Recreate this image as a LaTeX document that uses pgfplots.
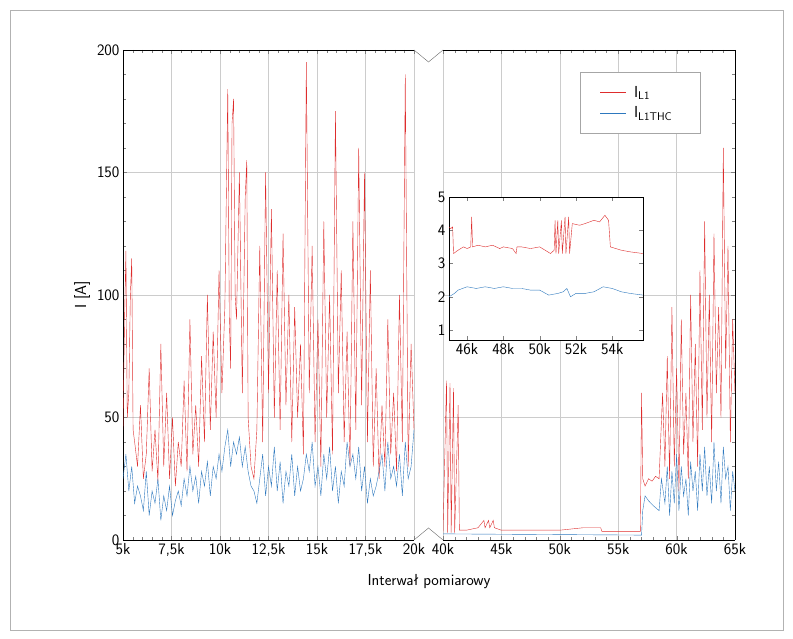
\documentclass[border=0pt]{standalone}
\usepackage{pgfplots}
\pgfplotsset{compat=1.18}
\definecolor{cr}{RGB}{222,45,45}
\definecolor{cb}{RGB}{45,120,190}
\newcommand\tf{\sffamily\fontsize{16}{18}\selectfont}
\begin{document}
\sffamily
\begin{tikzpicture}
\path[use as bounding box] (0bp,0bp) rectangle (793bp,639bp);
\draw[gray!60] (10bp,9bp) rectangle (783bp,629bp);
\pgfplotsset{every axis/.style={scale only axis, ticklabel style={font=\tf}, /pgf/number format/assume math mode=true,
 grid=major, major grid style={gray!40}, tick align=inside, minor tick num=4, ymin=0, ymax=200, ytick={0,50,100,150,200},
 every axis plot/.append style={line width=0.4pt}}}
\begin{axis}[at={(123bp,99bp)}, anchor=south west, width=291bp, height=490bp, xmin=5, xmax=20,
 xtick={5,7.5,10,12.5,15,17.5,20}, xticklabels={5k,{7,5k},10k,{12,5k},15k,{17,5k},20k},
 ylabel={I [A]}, ylabel style={font=\tf}, axis y line*=left, axis x line*=box]
\addplot[cr] coordinates {(5.00,45)(5.08,90)(5.15,118)(5.22,50)(5.30,60)(5.38,100)(5.45,115)(5.52,45)(5.60,40)(5.75,30)(5.90,55)(6.05,25)(6.20,35)(6.35,70)(6.50,28)(6.65,45)(6.80,24)(6.95,80)(7.10,30)(7.25,60)(7.40,25)(7.55,50)(7.70,22)(7.85,40)(8.00,30)(8.15,65)(8.30,28)(8.45,90)(8.60,35)(8.75,55)(8.90,30)(9.05,75)(9.20,40)(9.35,100)(9.50,45)(9.65,85)(9.80,50)(9.95,110)(10.10,60)(10.25,95)(10.40,184)(10.48,90)(10.55,70)(10.62,170)(10.70,180)(10.78,100)(10.85,90)(11.00,150)(11.15,60)(11.30,140)(11.38,155)(11.45,50)(11.60,30)(11.75,25)(11.90,45)(12.05,120)(12.20,40)(12.35,150)(12.50,60)(12.65,135)(12.80,50)(12.95,110)(13.10,45)(13.25,125)(13.40,55)(13.55,100)(13.70,40)(13.85,95)(14.00,50)(14.15,80)(14.30,35)(14.45,195)(14.60,60)(14.75,120)(14.90,40)(15.05,90)(15.20,30)(15.35,130)(15.50,50)(15.65,100)(15.80,35)(15.95,175)(16.10,60)(16.25,110)(16.40,40)(16.55,85)(16.70,30)(16.85,130)(17.00,45)(17.15,160)(17.30,55)(17.45,150)(17.60,40)(17.75,110)(17.90,30)(18.05,70)(18.20,25)(18.35,55)(18.50,30)(18.65,90)(18.80,35)(18.95,60)(19.10,28)(19.25,100)(19.40,40)(19.55,190)(19.70,30)(19.85,80)(20.00,45)};
\addplot[cb] coordinates {(5.00,25)(5.15,35)(5.30,20)(5.45,30)(5.60,15)(5.75,22)(5.90,18)(6.05,12)(6.20,28)(6.35,10)(6.50,20)(6.65,15)(6.80,25)(6.95,8)(7.10,18)(7.25,12)(7.40,22)(7.55,10)(7.70,16)(7.85,20)(8.00,14)(8.15,25)(8.30,18)(8.45,30)(8.60,20)(8.75,26)(8.90,15)(9.05,28)(9.20,22)(9.35,32)(9.50,18)(9.65,30)(9.80,25)(9.95,35)(10.10,28)(10.25,38)(10.40,45)(10.55,30)(10.70,40)(10.85,35)(11.00,42)(11.15,30)(11.30,38)(11.45,28)(11.60,22)(11.75,20)(11.90,15)(12.05,25)(12.20,35)(12.35,18)(12.50,30)(12.65,22)(12.80,38)(12.95,20)(13.10,32)(13.25,15)(13.40,28)(13.55,22)(13.70,35)(13.85,18)(14.00,30)(14.15,20)(14.30,25)(14.45,35)(14.60,28)(14.75,40)(14.90,22)(15.05,30)(15.20,18)(15.35,35)(15.50,25)(15.65,38)(15.80,20)(15.95,30)(16.10,15)(16.25,28)(16.40,22)(16.55,40)(16.70,30)(16.85,35)(17.00,25)(17.15,38)(17.30,20)(17.45,30)(17.60,15)(17.75,25)(17.90,18)(18.05,22)(18.20,28)(18.35,35)(18.50,20)(18.65,40)(18.80,25)(18.95,30)(19.10,22)(19.25,35)(19.40,18)(19.55,40)(19.70,25)(19.85,30)(20.00,45)};
\end{axis}
\begin{axis}[at={(443bp,99bp)}, anchor=south west, width=292bp, height=490bp, xmin=40, xmax=65,
 xtick={40,45,50,55,60,65}, xticklabels={40k,45k,50k,55k,60k,65k}, yticklabels={},
 axis y line*=right, axis x line*=box,
 legend style={at={(0.469,0.955)}, anchor=north west, font=\tf, draw=gray!70, inner xsep=20pt, inner ysep=12pt, row sep=4pt, legend cell align=left,
 nodes={inner xsep=8pt}},
 legend image code/.code={\draw[#1] (0cm,0cm) -- (0.9cm,0cm);}]
\addlegendimage{cr, line width=0.5pt}
\addlegendentry{I\textsubscript{L1}}
\addlegendimage{cb, line width=0.5pt}
\addlegendentry{I\textsubscript{L1THC}}
\addplot[cr, forget plot] coordinates {(40.0,3)(40.3,65)(40.4,3)(40.6,64)(40.7,3)(40.9,62)(41.0,3)(41.3,55)(41.4,4)(42,4)(43,5)(43.5,8)(43.6,5)(43.9,8)(44.0,5)(44.3,8)(44.4,5)(45,4)(50,4)(51,4.5)(52,5)(53.5,5)(53.6,3.5)(56.9,3.5)(57.0,60)(57.1,25)(57.3,22)(57.6,25)(57.9,24)(58.2,26)(58.5,25)(58.8,60)(59.0,30)(59.2,75)(59.4,25)(59.6,95)(59.8,30)(60.0,70)(60.2,20)(60.4,90)(60.6,35)(60.8,60)(61.0,25)(61.2,100)(61.4,40)(61.6,80)(61.8,30)(62.0,110)(62.2,45)(62.4,130)(62.6,50)(62.8,100)(63.0,40)(63.2,125)(63.4,60)(63.6,95)(63.8,50)(64.0,160)(64.2,70)(64.4,120)(64.6,40)(64.8,90)(65.0,60)};
\addplot[cb, forget plot] coordinates {(40,2.5)(57,2)(57.1,12)(57.3,18)(57.6,16)(58,14)(58.5,12)(58.7,25)(59,15)(59.2,30)(59.4,10)(59.6,28)(59.8,15)(60,35)(60.2,12)(60.4,30)(60.6,18)(60.8,25)(61,10)(61.2,32)(61.4,20)(61.6,28)(61.8,12)(62,35)(62.2,20)(62.4,38)(62.6,18)(62.8,30)(63,15)(63.2,40)(63.4,20)(63.6,32)(63.8,15)(64,38)(64.2,25)(64.4,30)(64.6,12)(64.8,28)(65,20)};
\end{axis}
\draw[gray!80!black] (414bp,589bp)--(428.5bp,577bp)--(443bp,589bp);
\draw[gray!80!black] (414bp,99bp)--(428.5bp,111bp)--(443bp,99bp);
\node[font=\tf] at (429bp,57bp) {Interwał pomiarowy};
\begin{axis}[at={(449bp,299bp)}, anchor=south west, width=194bp, height=143bp, xmin=45, xmax=55.7, ymin=0.7, ymax=5,
 xtick={46,48,50,52,54}, xticklabels={46k,48k,50k,52k,54k}, ytick={1,2,3,4,5}, grid=none, minor tick num=0,
 axis background/.style={fill=white}]
\addplot[cr] coordinates {(45,4.1)(45.1,4.05)(45.2,4.1)(45.25,3.3)(45.5,3.4)(45.8,3.5)(46,3.45)(46.2,3.5)(46.25,4.4)(46.3,3.5)(46.6,3.55)(47,3.5)(47.4,3.55)(47.8,3.45)(48,3.5)(48.5,3.45)(48.7,3.3)(48.75,3.5)(49,3.5)(49.5,3.45)(50,3.5)(50.3,3.4)(50.6,3.3)(50.8,3.4)(50.85,4.3)(50.9,3.3)(51.0,4.3)(51.05,3.3)(51.2,4.3)(51.25,3.3)(51.4,4.4)(51.45,3.3)(51.6,4.4)(51.65,3.3)(51.8,4.2)(52.2,4.15)(52.5,4.2)(53,4.3)(53.3,4.25)(53.6,4.45)(53.8,4.3)(53.9,3.5)(54.2,3.45)(54.5,3.4)(55,3.35)(55.7,3.3)};
\addplot[cb] coordinates {(45,2.0)(45.3,2.1)(45.5,2.2)(46,2.3)(46.5,2.25)(47,2.3)(47.5,2.25)(48,2.3)(48.5,2.25)(49,2.25)(49.5,2.2)(50,2.2)(50.5,2.05)(51,2.1)(51.3,2.15)(51.5,2.25)(51.7,2.0)(52,2.1)(52.5,2.1)(53,2.15)(53.5,2.3)(54,2.25)(54.5,2.15)(55,2.1)(55.7,2.05)};
\end{axis}
\end{tikzpicture}
\end{document}
